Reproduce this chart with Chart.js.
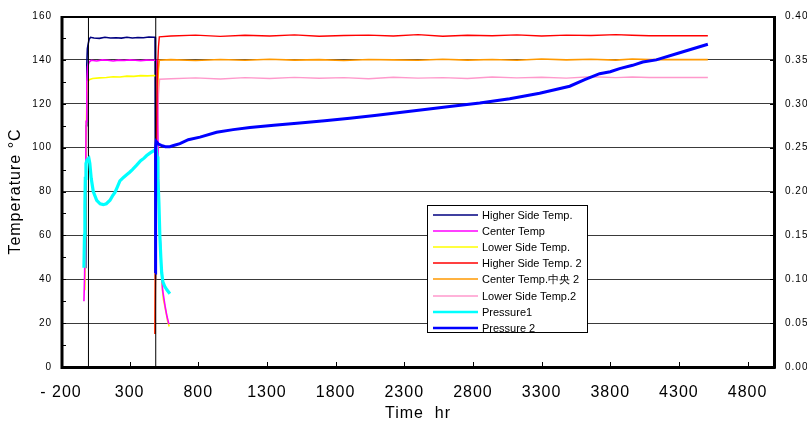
<!DOCTYPE html>
<html>
<head>
<meta charset="utf-8">
<script src="https://cdn.jsdelivr.net/npm/chart.js@4/dist/chart.umd.min.js"></script>
<style>
  html, body { margin: 0; padding: 0; background: #fff; }
  #wrap { width: 807px; height: 425px; }
</style>
</head>
<body>
<div id="wrap"><canvas id="c" width="807" height="425"></canvas></div>
<script>
// ---------------- DATA ----------------
const xTickValues = [-200, 300, 800, 1300, 1800, 2300, 2800, 3300, 3800, 4300, 4800];

const seriesLabels = ['Higher Side Temp.', 'Center Temp', 'Lower Side Temp.', 'Higher Side Temp. 2', 'Center Temp.中央 2', 'Lower Side Temp.2', 'Pressure1', 'Pressure 2'];

// Run 1 temperatures (°C)
const hiTemp1Time = [-20, -15, -12, -8, -3, 5, 15, 40, 80, 120, 160, 200, 240, 280, 320, 360, 400, 440, 480, 485, 487, 489];
const hiTemp1Val  = [45, 110, 138, 145, 147, 149.4, 150.3, 150, 149.8, 150.3, 150, 150.1, 149.9, 150.3, 150, 150.2, 150.1, 150.4, 150.3, 150.3, 90, 40];

const ctTemp1Time = [-33, -28, -22, -17, -12, -6, 5, 20, 60, 100, 140, 180, 220, 260, 300, 340, 380, 420, 460, 498, 503, 510, 518, 525, 532, 540, 550, 560, 572, 586];
const ctTemp1Val  = [30, 42, 75, 112, 130, 137, 139, 139.8, 139.5, 140, 139.8, 139.5, 139.9, 139.7, 140, 139.8, 139.6, 139.9, 139.8, 139.8, 120, 85, 62, 56, 44, 35, 31, 27, 23, 19.5];

const loTemp1Time = [-26, -20, -15, -10, -4, 5, 30, 80, 130, 180, 230, 280, 330, 380, 430, 480, 498, 503, 510, 520, 530, 538, 545, 552, 560, 568, 576, 588];
const loTemp1Val  = [35, 75, 112, 126, 130, 131, 131.5, 131.8, 132, 132.3, 132.2, 132.6, 132.5, 132.8, 132.7, 132.9, 132.7, 110, 75, 58, 45, 36, 31, 29, 26.5, 24, 21, 18.5];

// Run 2 temperatures (°C)
const hiTemp2Time = [485, 492, 502, 510, 516, 600, 780, 960, 1140, 1320, 1500, 1680, 1860, 2040, 2220, 2400, 2580, 2760, 2940, 3120, 3300, 3480, 3660, 3840, 3960, 4084, 4511];
const hiTemp2Val  = [15, 90, 135, 146, 150.5, 150.9, 151.3, 150.7, 151.2, 150.9, 151.4, 150.8, 151.1, 151.3, 150.9, 151.5, 150.8, 151.2, 151.0, 151.4, 150.9, 151.3, 151.1, 151.5, 151.2, 151.0, 151.0];

const ctTemp2Time = [485, 492, 502, 510, 516, 600, 780, 960, 1140, 1320, 1500, 1680, 1860, 2040, 2220, 2400, 2580, 2760, 2940, 3120, 3300, 3480, 3660, 3840, 3960, 4084, 4511];
const ctTemp2Val  = [15, 85, 125, 136, 139.8, 140.1, 139.7, 140.2, 139.8, 140.3, 139.9, 140.1, 139.7, 140.2, 140.0, 139.8, 140.3, 139.9, 140.2, 139.8, 140.4, 140.0, 140.3, 139.9, 140.4, 140.1, 140.1];

const loTemp2Time = [485, 492, 502, 510, 518, 600, 780, 960, 1140, 1320, 1500, 1680, 1860, 2040, 2220, 2400, 2580, 2760, 2940, 3120, 3300, 3480, 3660, 3840, 3960, 4084, 4511];
const loTemp2Val  = [15, 70, 110, 124, 131.2, 131.4, 131.8, 131.3, 131.9, 131.5, 132.0, 131.6, 131.9, 131.4, 132.1, 131.7, 131.9, 131.5, 132.2, 131.8, 132.1, 131.7, 132.3, 131.9, 132.2, 132.0, 132.0];

// Pressures (right axis)
const press1Time = [-33, -29, -26, -23, -18, -10, 3, 10, 20, 35, 60, 85, 108, 130, 157, 175, 193, 210, 229, 255, 278, 300, 320, 351, 380, 405, 424, 450, 470, 484, 493, 500, 506, 513, 520, 527, 533, 542, 555, 571, 593];
const press1Val  = [0.113, 0.15, 0.185, 0.215, 0.232, 0.236, 0.238, 0.232, 0.215, 0.2, 0.19, 0.186, 0.185, 0.186, 0.19, 0.195, 0.199, 0.205, 0.212, 0.216, 0.219, 0.222, 0.225, 0.23, 0.235, 0.238, 0.241, 0.244, 0.246, 0.247, 0.249, 0.24, 0.215, 0.188, 0.149, 0.125, 0.108, 0.097, 0.092, 0.088, 0.0835];

const press2Time = [485, 489, 494, 500, 510, 530, 560, 593, 620, 666, 727, 812, 933, 1054, 1176, 1350, 1539, 1720, 1903, 2085, 2267, 2450, 2631, 2850, 3068, 3286, 3505, 3614, 3723, 3800, 3868, 3963, 4037, 4135, 4300, 4511];
const press2Val  = [0.107, 0.25, 0.257, 0.256, 0.254, 0.2525, 0.251, 0.251, 0.2525, 0.2545, 0.259, 0.262, 0.2675, 0.2705, 0.273, 0.2755, 0.278, 0.2805, 0.2835, 0.2865, 0.29, 0.2935, 0.2968, 0.3008, 0.3058, 0.312, 0.32, 0.3275, 0.3343, 0.3365, 0.34, 0.3438, 0.3475, 0.35, 0.3578, 0.3678];

// Run boundary markers (hr)
const markerTimes = [0, 490];
const markerSpan = [0, 160];

// ---------------- BUILD ----------------
const FONT = "'Liberation Sans', Arial, sans-serif";
const pts = (xs, ys) => xs.map((x, i) => ({ x: x, y: ys[i] }));

function line(label, xs, ys, color, width, axis, order, legendWidth) {
  return {
    label: label, data: pts(xs, ys), borderColor: color, backgroundColor: color,
    borderWidth: width, pointRadius: 0, tension: 0, yAxisID: axis, order: order,
    legendColor: color, legendWidth: legendWidth || 1
  };
}

const datasets = [
  line(seriesLabels[0], hiTemp1Time, hiTemp1Val, '#000080', 1.6, 'y', 8, 1.5),
  line(seriesLabels[1], ctTemp1Time, ctTemp1Val, '#FF00FF', 1.6, 'y', 6, 1.5),
  line(seriesLabels[2], loTemp1Time, loTemp1Val, '#FFFF00', 1.6, 'y', 7, 1.5),
  line(seriesLabels[3], hiTemp2Time, hiTemp2Val, '#FF0000', 1.4, 'y', 5, 1.5),
  line(seriesLabels[4], ctTemp2Time, ctTemp2Val, '#FF9900', 1.6, 'y', 6, 1.5),
  line(seriesLabels[5], loTemp2Time, loTemp2Val, '#FF99CC', 1.4, 'y', 7, 1.5),
  line(seriesLabels[6], press1Time, press1Val, '#00FFFF', 3.2, 'y1', 2, 2.5),
  line(seriesLabels[7], press2Time, press2Val, '#0000FF', 3, 'y1', 1, 2.5),
];
markerTimes.forEach(t => {
  const d = line('', [t, t], markerSpan, '#000000', 1, 'y', 3, 1);
  d.hideInLegend = true;
  datasets.push(d);
});

// ---------------- PLUGINS ----------------
const spacingPlugin = {
  id: 'spacing',
  beforeDraw(chart) { chart.ctx.letterSpacing = '1px'; },
  afterDraw(chart) { chart.ctx.letterSpacing = '0px'; }
};

const framePlugin = {
  id: 'frame',
  afterDatasetsDraw(chart) {
    const { ctx, chartArea: a, scales } = chart;
    ctx.save();
    ctx.strokeStyle = '#000';
    ctx.lineWidth = 1;
    ctx.beginPath();
    for (let v = 10; v < 160; v += 10) {
      const y = Math.round(scales.y.getPixelForValue(v)) + 0.5;
      ctx.moveTo(a.left, y); ctx.lineTo(a.left + 5, y);
    }
    scales.y1.ticks.forEach(t => {
      const y = Math.round(scales.y1.getPixelForValue(t.value)) + 0.5;
      ctx.moveTo(a.right, y); ctx.lineTo(a.right - 5, y);
    });
    scales.x.ticks.forEach(t => {
      const x = Math.round(scales.x.getPixelForValue(t.value)) + 0.5;
      ctx.moveTo(x, a.bottom); ctx.lineTo(x, a.bottom - 5);
    });
    ctx.stroke();
    ctx.lineWidth = 3;
    ctx.beginPath();
    ctx.moveTo(a.left + 1, a.top); ctx.lineTo(a.left + 1, a.bottom + 1.5);
    ctx.moveTo(a.left - 0.5, a.bottom + 0.5); ctx.lineTo(a.right + 0.5, a.bottom + 0.5);
    ctx.moveTo(a.right - 0.5, a.top); ctx.lineTo(a.right - 0.5, a.bottom + 1.5);
    ctx.stroke();
    ctx.lineWidth = 2;
    ctx.beginPath();
    ctx.moveTo(a.left, a.top + 1); ctx.lineTo(a.right + 1, a.top + 1);
    ctx.stroke();
    ctx.restore();
  }
};

const boxLegend = {
  id: 'boxLegend',
  afterDraw(chart, args, opts) {
    const ctx = chart.ctx;
    const items = chart.data.datasets.filter(d => !d.hideInLegend);
    ctx.save();
    ctx.letterSpacing = '0px';
    ctx.fillStyle = '#fff';
    ctx.fillRect(opts.x, opts.y, opts.w, opts.h);
    ctx.strokeStyle = '#000';
    ctx.lineWidth = 1;
    ctx.strokeRect(opts.x + 0.5, opts.y + 0.5, opts.w, opts.h);
    ctx.font = opts.fontSize + 'px ' + FONT;
    ctx.textBaseline = 'middle';
    ctx.textAlign = 'left';
    items.forEach((d, i) => {
      const yy = Math.round(opts.firstRow + i * opts.rowStep);
      ctx.strokeStyle = d.legendColor;
      ctx.lineWidth = d.legendWidth;
      ctx.beginPath();
      ctx.moveTo(opts.lineX0, yy); ctx.lineTo(opts.lineX1, yy);
      ctx.stroke();
      ctx.fillStyle = '#000';
      ctx.fillText(d.label, opts.textX, yy + 1);
    });
    ctx.restore();
  }
};

// ---------------- CHART ----------------
new Chart(document.getElementById('c'), {
  type: 'line',
  data: { datasets: datasets },
  plugins: [spacingPlugin, framePlugin, boxLegend],
  options: {
    responsive: false,
    animation: false,
    devicePixelRatio: 1,
    layout: { padding: { top: 8, left: 0, right: 0, bottom: 0 } },
    plugins: {
      legend: { display: false },
      tooltip: { enabled: false },
      boxLegend: { x: 427, y: 205, w: 160, h: 127, firstRow: 215, rowStep: 16.1,
                   lineX0: 433, lineX1: 478, textX: 482, fontSize: 11 }
    },
    scales: {
      x: {
        type: 'linear', min: -200, max: 5000,
        afterBuildTicks: s => { s.ticks = xTickValues.map(v => ({ value: v })); },
        afterFit: s => { s.height = 58; },
        grid: { display: false, drawTicks: false },
        border: { display: false },
        ticks: {
          padding: 16, color: '#000', maxRotation: 0, autoSkip: false,
          font: { family: FONT, size: 16 },
          callback: v => (v < 0 ? '- ' + Math.abs(v) : String(v))
        },
        title: { display: true, text: 'Time  hr', color: '#000',
                 font: { family: FONT, size: 16 }, padding: { top: 0, bottom: 2 } }
      },
      y: {
        position: 'left', min: 0, max: 160,
        afterFit: s => { s.width = 61; },
        grid: { color: '#3a3a3a', lineWidth: 1, drawTicks: false },
        border: { display: false },
        ticks: { stepSize: 20, padding: 9, color: '#000', font: { family: FONT, size: 10 } },
        title: { display: true, text: 'Temperature °C', color: '#000',
                 font: { family: FONT, size: 16 }, padding: { top: 6, bottom: 0 } }
      },
      y1: {
        position: 'right', min: 0, max: 0.4,
        afterFit: s => { s.width = 32; },
        grid: { display: false, drawTicks: false },
        border: { display: false },
        ticks: { stepSize: 0.05, padding: 10, color: '#000', font: { family: FONT, size: 10 },
                 callback: v => v.toFixed(2) }
      }
    }
  }
});
</script>
</body>
</html>
